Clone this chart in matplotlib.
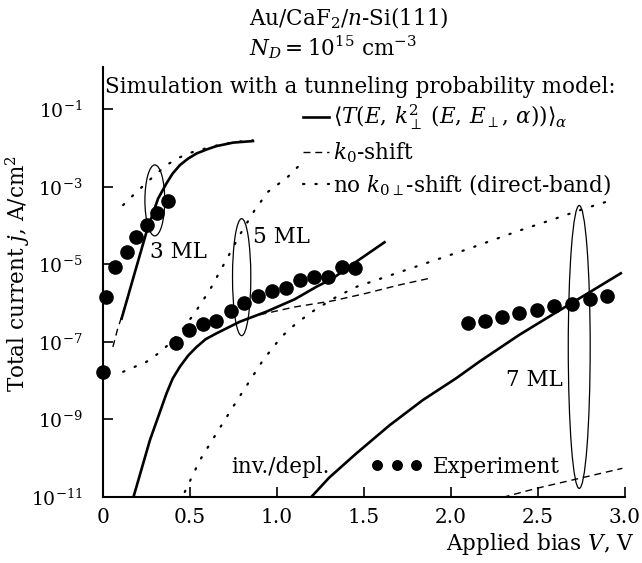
import numpy as np
import matplotlib.pyplot as plt
from matplotlib.patches import Ellipse
from matplotlib.ticker import NullLocator

plt.rcParams['font.family'] = ['DejaVu Serif']
plt.rcParams['mathtext.fontset'] = 'dejavuserif'
plt.rcParams['font.size'] = 15.5

# values: bias V (volts) and log10 of current density j (A/cm^2)
# 3 ML
v_exp3 = [0.00, 0.017, 0.069, 0.139, 0.189, 0.251, 0.312, 0.375]
lj_exp3 = [-7.77, -5.84, -5.08, -4.67, -4.30, -3.99, -3.67, -3.37]
v_sol3 = [0.107, 0.174, 0.251, 0.317, 0.365, 0.40, 0.442, 0.49, 0.538, 0.60, 0.652,
          0.748, 0.862]
lj_sol3 = [-6.40, -5.35, -4.15, -3.30, -2.91, -2.66, -2.44, -2.27, -2.14, -2.03, -1.95,
           -1.86, -1.82]
v_dsh3 = [0.057, 0.085, 0.115, 0.150]
lj_dsh3 = [-7.13, -6.65, -6.25, -5.75]
v_dot3 = [0.116, 0.184, 0.298, 0.365, 0.432, 0.489, 0.556, 0.650, 0.750, 0.860]
lj_dot3 = [-3.47, -3.17, -2.70, -2.44, -2.26, -2.14, -2.05, -1.94, -1.85, -1.80]

# 5 ML
v_exp5 = [0.419, 0.495, 0.575, 0.652, 0.734, 0.813, 0.891, 0.974, 1.054, 1.134,
          1.212, 1.293, 1.375, 1.450]
lj_exp5 = [-7.04, -6.68, -6.54, -6.47, -6.21, -6.00, -5.81, -5.69, -5.60, -5.41,
           -5.32, -5.32, -5.08, -5.10]
v_sol5 = [0.172, 0.270, 0.365, 0.40, 0.442, 0.49, 0.538, 0.59, 0.652, 0.786, 0.939,
          1.102, 1.226, 1.321, 1.456, 1.618]
lj_sol5 = [-11.05, -9.53, -8.33, -7.95, -7.64, -7.35, -7.13, -6.93, -6.78, -6.48, -6.22,
           -5.90, -5.58, -5.36, -4.93, -4.43]
v_dsh5 = [0.90, 1.10, 1.321, 1.50, 1.704, 1.876]
lj_dsh5 = [-6.30, -6.10, -5.94, -5.76, -5.53, -5.36]
v_dot5 = [0.116, 0.251, 0.317, 0.384, 0.453, 0.528, 0.614, 0.719, 0.786, 0.872,
          0.948, 1.061, 1.141]
lj_dot5 = [-7.77, -7.51, -7.30, -7.04, -6.70, -6.25, -5.66, -4.80, -4.24, -3.60,
           -3.13, -2.75, -2.39]

# 7 ML
v_exp7 = [2.095, 2.195, 2.296, 2.392, 2.492, 2.593, 2.695, 2.798, 2.899]
lj_exp7 = [-6.52, -6.46, -6.35, -6.26, -6.18, -6.08, -6.01, -5.90, -5.81]
v_sol7 = [1.197, 1.30, 1.455, 1.647, 1.838, 2.029, 2.163, 2.392, 2.60, 2.80, 2.976]
lj_sol7 = [-11.0, -10.5, -9.88, -9.15, -8.50, -7.94, -7.51, -6.82, -6.25, -5.71, -5.23]
v_dsh7 = [2.297, 2.488, 2.737, 2.985]
lj_dsh7 = [-11.01, -10.78, -10.52, -10.26]
v_dot7 = [0.470, 0.557, 0.652, 0.748, 0.834, 0.920, 1.025, 1.111, 1.216, 1.341,
          1.456, 1.666, 1.876, 2.10, 2.392, 2.60, 2.775, 2.926]
lj_dot7 = [-10.87, -10.05, -9.36, -8.67, -8.07, -7.47, -6.87, -6.52, -6.18, -5.84,
           -5.58, -5.26, -4.94, -4.60, -4.13, -3.82, -3.55, -3.34]

x_ticks = [0, 0.5, 1.0, 1.5, 2.0, 2.5, 3.0]
x_labels = ['0', '0.5', '1.0', '1.5', '2.0', '2.5', '3.0']
y_ticks = [1e-1, 1e-3, 1e-5, 1e-7, 1e-9, 1e-11]

# ellipses marking each film thickness: centre (V, log10 j), size in axes fraction
ring_v = [0.298, 0.797, 2.737]
ring_lj = [-3.35, -5.33, -7.13]
ring_w = [0.038, 0.035, 0.042]
ring_h = [0.165, 0.272, 0.658]

fig = plt.figure(figsize=(6.42, 5.63), dpi=100)
ax = fig.add_axes([0.1604, 0.1172, 0.8131, 0.7638])
ax.set_yscale('log')
ax.set_xlim(0, 3.0)
ax.set_ylim(1e-11, 10 ** 0.09)

solid_kw = dict(color='k', lw=1.9)
dash_kw = dict(color='k', lw=1.0, linestyle=(0, (5, 3.5)))
dot_kw = dict(color='k', lw=1.6, linestyle=(0, (0.6, 5)), dash_capstyle='round')
exp_kw = dict(color='k', marker='o', ms=9.5, linestyle='none', clip_on=False, zorder=4)

def p(lj):
    return 10.0 ** np.array(lj)

l_sol, = ax.plot(v_sol3, p(lj_sol3), **solid_kw)
l_dsh, = ax.plot(v_dsh3, p(lj_dsh3), **dash_kw)
l_dot, = ax.plot(v_dot3, p(lj_dot3), **dot_kw)
ax.plot(v_sol5, p(lj_sol5), **solid_kw)
ax.plot(v_dsh5, p(lj_dsh5), **dash_kw)
ax.plot(v_dot5, p(lj_dot5), **dot_kw)
ax.plot(v_sol7, p(lj_sol7), **solid_kw)
ax.plot(v_dsh7, p(lj_dsh7), **dash_kw)
ax.plot(v_dot7, p(lj_dot7), **dot_kw)

l_exp, = ax.plot(v_exp3, p(lj_exp3), **exp_kw)
ax.plot(v_exp5, p(lj_exp5), **exp_kw)
ax.plot(v_exp7, p(lj_exp7), **exp_kw)

for v, lj, w, h in zip(ring_v, ring_lj, ring_w, ring_h):
    cx, cy = ax.transAxes.inverted().transform(ax.transData.transform((v, 10.0 ** lj)))
    ax.add_patch(Ellipse((cx, cy), w, h, transform=ax.transAxes,
                         fill=False, ec='k', lw=0.9, zorder=5))

# labels
ax.text(0.27, 10 ** -4.68, '3 ML', va='center', ha='left')
ax.text(0.86, 10 ** -4.29, '5 ML', va='center', ha='left')
ax.text(2.315, 10 ** -7.99, '7 ML', va='center', ha='left')
ax.text(0.737, 10 ** -10.22, 'inv./depl.', va='center', ha='left')
ax.text(0.003, 0.953, 'Simulation with a tunneling probability model:',
        transform=ax.transAxes, va='center', ha='left')

leg1 = ax.legend([l_sol, l_dsh, l_dot],
                 [r'$\langle T(E,\,k_{\perp}^{2}\ (E,\,E_{\perp},\,\alpha))\rangle_{\alpha}$',
                  r'$k_0$-shift',
                  r'no $k_{0\perp}$-shift (direct-band)'],
                 loc='upper left', bbox_to_anchor=(0.383, 0.917), frameon=False,
                 borderpad=0, borderaxespad=0, handlelength=1.2, handletextpad=0.2,
                 labelspacing=0.36)
ax.add_artist(leg1)
ax.legend([l_exp], ['Experiment'], numpoints=3, loc='center left',
          bbox_to_anchor=(0.513, 0.0705), frameon=False, borderpad=0,
          borderaxespad=0, handlelength=2.4, handletextpad=0.5, markerscale=0.72)

# axes styling
ax.spines[['top', 'right']].set_visible(False)
for s in ['left', 'bottom']:
    ax.spines[s].set_linewidth(1.5)
ax.set_xticks(x_ticks)
ax.set_xticklabels(x_labels)
ax.set_yticks(y_ticks)
ax.yaxis.set_minor_locator(NullLocator())
ax.tick_params(direction='in', length=7, width=1.2)
ax.tick_params(axis='x', pad=8, labelsize=14.5)
ax.tick_params(axis='y', pad=14.5, labelsize=13.5)

ax.set_xlabel(r'Applied bias $V$, V', loc='right')
ax.xaxis.set_label_coords(1.019, -0.078)
ax.set_ylabel(r'Total current $j$, A/cm$^2$')
ax.yaxis.set_label_coords(-0.136, 0.519)

fig.text(249 / 642, 1 - 18 / 563, r'Au/CaF$_2$/$n$-Si(111)', ha='left', va='center')
fig.text(249 / 642, 1 - 47 / 563, r'$N_D = 10^{15}$ cm$^{-3}$', ha='left', va='center')

fig.savefig('out.png', dpi=100)
